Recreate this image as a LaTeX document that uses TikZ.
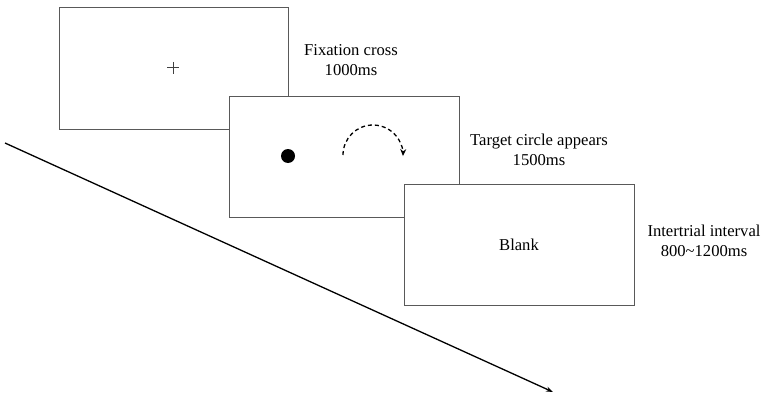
\documentclass[tikz,border=0pt]{standalone}
\usepackage{fontspec}
\setmainfont{Liberation Serif}
\usetikzlibrary{arrows.meta}
\begin{document}
\begin{tikzpicture}[x=1pt,y=-1pt,
  screen/.style={draw=black!65,line width=1.2pt,fill=white},
  lbl/.style={font=\fontsize{16.6}{19.5}\selectfont,align=center,inner sep=0pt}]
\useasboundingbox (0,0) rectangle (767,401);
% time axis
\coordinate (tA) at (5,143);
\coordinate (tB) at (553,392);
\draw[line width=1.3pt,-{Stealth[length=7pt,width=5pt]}] (tA) -- (tB);
% screens
\node[screen,minimum width=229pt,minimum height=122pt,anchor=north west] (s1) at (59,7) {};
\node[screen,minimum width=230pt,minimum height=121pt,anchor=north west] (s2) at (229,96) {};
\node[screen,minimum width=230pt,minimum height=121pt,anchor=north west] (s3) at (404,184) {};
% contents
\draw[line width=1pt,black!75] (167,68) -- (179,68) (173,62) -- (173,74);
\fill (288,156) circle (7);
\coordinate (arcS) at (343,155);
\draw[line width=1.3pt,dashed,dash pattern=on 4pt off 3pt,-{Stealth[length=7pt,width=6pt]}] (arcS) arc[start angle=180,end angle=362,radius=30];
\node[lbl] (blank) at (519,245) {Blank};
% labels
\node[lbl] (t1) at (351,60) {Fixation cross\\1000ms};
\node[lbl] (t2) at (539,150) {Target circle appears\\1500ms};
\node[lbl] (t3) at (704,241) {Intertrial interval\\800\textasciitilde1200ms};
\end{tikzpicture}
\end{document}
